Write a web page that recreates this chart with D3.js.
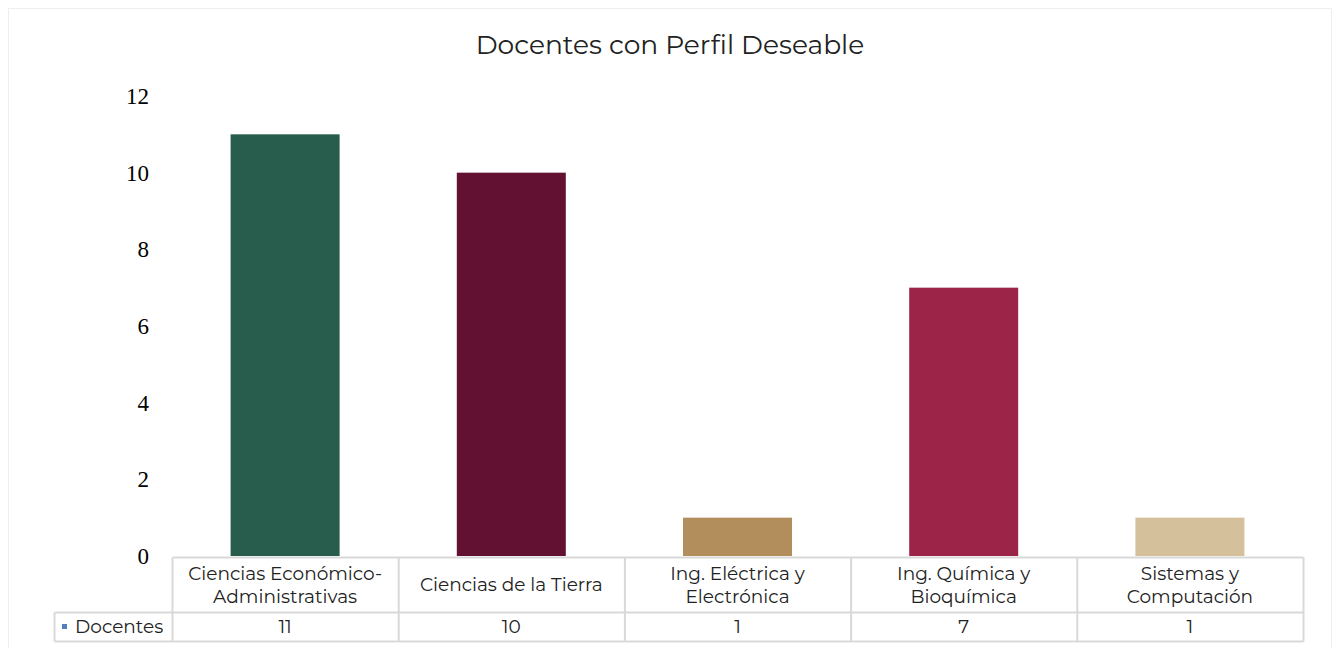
<!DOCTYPE html>
<html><head><meta charset="utf-8">
<script src="https://cdn.jsdelivr.net/npm/d3@7"></script>
<style>body{margin:0;background:#fff}svg{display:block}</style>
</head><body>
<script>
const categories = [["Ciencias Económico-","Administrativas"],["Ciencias de la Tierra"],["Ing. Eléctrica y","Electrónica"],["Ing. Química y","Bioquímica"],["Sistemas y","Computación"]];
const values = [11, 10, 1, 7, 1];
const colors = ["#285C4D","#621132","#B38E5D","#9D2449","#D4C19C"];
const yTicks = [0,2,4,6,8,10,12];
const seriesName = "Docentes";
const title = "Docentes con Perfil Deseable";

const W=1335,H=648;
const svg=d3.select("body").append("svg").attr("width",W).attr("height",H);
svg.append("rect").attr("x",8.5).attr("y",8.5).attr("width",1323).attr("height",645).attr("fill","#fff").attr("stroke","#eeeeee");

const sans="Montserrat, 'Open Sans', 'Noto Sans', sans-serif";
svg.append("text").attr("x",670).attr("y",54).attr("text-anchor","middle").attr("font-family",sans).attr("font-size",26.5).attr("fill","#222").text(title);

const x0=172,x1=1303;
const x=d3.scaleBand().domain(d3.range(values.length)).range([x0,x1]).paddingInner(0).paddingOuter(0);
const y=d3.scaleLinear().domain([0,12]).range([556,96]);

const yAxis=d3.axisLeft(y).tickValues(yTicks).tickSize(0).tickPadding(0);
const ga=svg.append("g").attr("transform","translate(149,0)").call(yAxis);
ga.select(".domain").remove();
ga.selectAll("text").attr("font-family","'Liberation Serif', 'DejaVu Serif', serif").attr("font-size",23).attr("fill","#000").attr("dy","0.32em");

const bw=109;
svg.selectAll("rect.bar").data(values).join("rect").attr("class","bar")
 .attr("x",(d,i)=>x(i)+x.bandwidth()/2-bw/2).attr("width",bw)
 .attr("y",d=>y(d)).attr("height",d=>y(0)-y(d)).attr("fill",(d,i)=>colors[i]);

// table
const lc="#d9d9d9";
const t=svg.append("g");
const r0=557.5,r1=612.5,r2=641.5,lx=54.5;
t.append("line").attr("x1",x0+0.5).attr("x2",x1+0.5).attr("y1",r0).attr("y2",r0).attr("stroke",lc).attr("stroke-width",2);
t.append("line").attr("x1",lx).attr("x2",x1+0.5).attr("y1",r1).attr("y2",r1).attr("stroke",lc).attr("stroke-width",2);
t.append("line").attr("x1",lx).attr("x2",x1+0.5).attr("y1",r2).attr("y2",r2).attr("stroke",lc).attr("stroke-width",2);
t.append("line").attr("x1",lx).attr("x2",lx).attr("y1",r1).attr("y2",r2).attr("stroke",lc).attr("stroke-width",2);
const vx=d3.range(values.length+1).map(i=>i<values.length?x(i):x1);
vx.forEach(v=>t.append("line").attr("x1",v+0.5).attr("x2",v+0.5).attr("y1",r0).attr("y2",r2).attr("stroke",lc).attr("stroke-width",2));

const fs=18.5;
categories.forEach((lines,i)=>{
  const cx=x(i)+x.bandwidth()/2;
  const n=lines.length;
  const mid=(r0+r1)/2;
  lines.forEach((ln,j)=>{
    t.append("text").attr("x",cx).attr("y",mid+(j-(n-1)/2)*22.5).attr("dy","0.35em").attr("text-anchor","middle")
     .attr("font-family",sans).attr("font-size",fs).attr("fill","#222").text(ln);
  });
  t.append("text").attr("x",cx).attr("y",(r1+r2)/2).attr("dy","0.35em").attr("text-anchor","middle")
   .attr("font-family",sans).attr("font-size",fs).attr("fill","#222").text(values[i]);
});
t.append("rect").attr("x",62).attr("y",624).attr("width",5).attr("height",5).attr("fill","#4F81BD");
t.append("text").attr("x",75).attr("y",(r1+r2)/2).attr("dy","0.35em").attr("font-family",sans).attr("font-size",fs).attr("fill","#222").text(seriesName);
</script>
</body></html>
